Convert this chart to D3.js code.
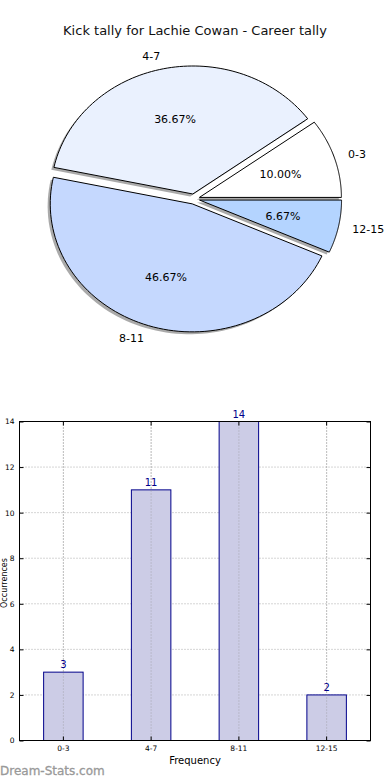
<!DOCTYPE html>
<html><head><meta charset="utf-8">
<script src="https://cdn.jsdelivr.net/npm/d3@7"></script>
<style>body{margin:0;background:#fff;}svg{display:block;font-family:"DejaVu Sans",sans-serif;}</style>
</head><body>
<svg id="c" width="390" height="780"></svg>
<script>
const categories = ["0-3", "4-7", "8-11", "12-15"];
const counts = [3, 11, 14, 2];
const pieColors = ["#ffffff", "#eaf1fe", "#c5d8fe", "#b4d4ff"];
const yTicks = [0, 2, 4, 6, 8, 10, 12, 14];
const title = "Kick tally for Lachie Cowan - Career tally";

const svg = d3.select("#c");

svg.append("text").attr("x", 195).attr("y", 35).attr("text-anchor", "middle")
  .attr("font-size", 13).attr("fill", "#111").text(title);

// Pie (elliptical, matplotlib-style, counterclockwise from east)
const cx = 194, cy = 199, rx = 142, ry = 128, explode = 0.04;
const total = d3.sum(counts);
const pie = d3.pie().sort(null).value(d => d)
  .startAngle(0).endAngle(2 * Math.PI);
const arcs = pie(counts);
const g = svg.append("g");
function pt(theta, r) { return [Math.cos(theta) * rx * r, -Math.sin(theta) * ry * r]; }
function slicePath(a, ox, oy) {
  const t0 = a.startAngle, t1 = a.endAngle;
  const n = 80, pts = [[ox, oy]];
  for (let i = 0; i <= n; i++) {
    const t = t0 + (t1 - t0) * i / n;
    const p = pt(t, 1);
    pts.push([ox + p[0], oy + p[1]]);
  }
  return "M" + pts.map(p => p[0].toFixed(2) + "," + p[1].toFixed(2)).join("L") + "Z";
}
const offs = arcs.map(a => {
  const mid = (a.startAngle + a.endAngle) / 2;
  const p = pt(mid, explode);
  return [cx + p[0], cy + p[1], mid];
});
arcs.forEach((a, i) => {
  g.append("path").attr("d", slicePath(a, offs[i][0] - 2.6, offs[i][1] + 2.4))
    .attr("fill", "#555").attr("opacity", 0.5).attr("stroke", "none");
});
arcs.forEach((a, i) => {
  g.append("path").attr("d", slicePath(a, offs[i][0], offs[i][1]))
    .attr("fill", pieColors[i]).attr("stroke", "#000").attr("stroke-width", 1)
    .attr("stroke-linejoin", "miter");
});
arcs.forEach((a, i) => {
  const [ox, oy, mid] = offs[i];
  const pp = pt(mid, 0.6);
  g.append("text").attr("x", ox + pp[0]).attr("y", oy + pp[1]).attr("dy", "0.35em")
    .attr("text-anchor", "middle").attr("font-size", 11).attr("fill", "#000")
    .text((counts[i] / total * 100).toFixed(2) + "%");
  const lp = pt(mid, 1.1);
  g.append("text").attr("x", ox + lp[0]).attr("y", oy + lp[1]).attr("dy", "0.35em")
    .attr("text-anchor", lp[0] > 0 ? "start" : "end").attr("font-size", 11).attr("fill", "#000")
    .text(categories[i]);
});

// Bar chart
const L = 19.5, R = 370.5, T = 421.5, B = 740.5;
const x = d3.scaleBand().domain(categories).range([L, R]).paddingInner(0.55).paddingOuter(0.275);
const y = d3.scaleLinear().domain([0, 14]).range([B, T]);
const bg = svg.append("g");
bg.selectAll(".gy").data(yTicks).join("line")
  .attr("x1", L).attr("x2", R).attr("y1", d => y(d)).attr("y2", d => y(d))
  .attr("stroke", "#aaa").attr("stroke-width", 1).attr("stroke-dasharray", "1,2");
bg.selectAll(".gx").data(categories).join("line")
  .attr("x1", d => x(d) + x.bandwidth() / 2).attr("x2", d => x(d) + x.bandwidth() / 2)
  .attr("y1", T).attr("y2", B)
  .attr("stroke", "#aaa").attr("stroke-width", 1).attr("stroke-dasharray", "1,2");
bg.selectAll(".bar").data(counts).join("rect")
  .attr("x", (d, i) => x(categories[i])).attr("width", x.bandwidth())
  .attr("y", d => y(d)).attr("height", d => B - y(d))
  .attr("fill", "#cccce6").attr("stroke", "#00008b").attr("stroke-width", 1);
bg.selectAll(".gx2").data(categories).join("line")
  .attr("x1", d => x(d) + x.bandwidth() / 2).attr("x2", d => x(d) + x.bandwidth() / 2)
  .attr("y1", T).attr("y2", B)
  .attr("stroke", "#999").attr("stroke-width", 1).attr("stroke-dasharray", "1,2").attr("opacity", 0.7);
bg.selectAll(".vl").data(counts).join("text")
  .attr("x", (d, i) => x(categories[i]) + x.bandwidth() / 2).attr("y", d => y(d) - 4)
  .attr("text-anchor", "middle").attr("font-size", 10).attr("fill", "#00008b").text(d => d);
bg.append("rect").attr("x", L).attr("y", T).attr("width", R - L).attr("height", B - T)
  .attr("fill", "none").attr("stroke", "#000").attr("stroke-width", 1);
const yAxisL = d3.axisLeft(y).tickValues(yTicks).tickSize(-4).tickPadding(5);
const ya = bg.append("g").attr("transform", `translate(${L},0)`).call(yAxisL);
ya.select(".domain").remove();
ya.selectAll("text").attr("font-size", 7.5).attr("font-family", "DejaVu Sans").attr("fill", "#000");
const yAxisR = d3.axisRight(y).tickValues(yTicks).tickSize(-4).tickFormat("");
const yr = bg.append("g").attr("transform", `translate(${R},0)`).call(yAxisR);
yr.select(".domain").remove();
const xAxisB = d3.axisBottom(x).tickSize(-4).tickPadding(5);
const xa = bg.append("g").attr("transform", `translate(0,${B})`).call(xAxisB);
xa.select(".domain").remove();
xa.selectAll("text").attr("font-size", 7.5).attr("font-family", "DejaVu Sans").attr("fill", "#000");
const xAxisT = d3.axisTop(x).tickSize(-4).tickFormat("");
const xt = bg.append("g").attr("transform", `translate(0,${T})`).call(xAxisT);
xt.select(".domain").remove();
bg.selectAll(".tick line").attr("stroke", "#000");

svg.append("text").attr("x", 195).attr("y", 764).attr("text-anchor", "middle")
  .attr("font-size", 10).attr("fill", "#000").text("Frequency");
svg.append("text").attr("transform", `translate(7,${(T + B) / 2 + 2}) rotate(-90)`)
  .attr("text-anchor", "middle").attr("font-size", 8).attr("fill", "#000").text("Occurrences");
svg.append("text").attr("x", 0).attr("y", 775).attr("font-size", 12)
  .attr("fill", "#999").attr("stroke", "#999").attr("stroke-width", 0.3).text("Dream-Stats.com");
</script>
</body></html>
